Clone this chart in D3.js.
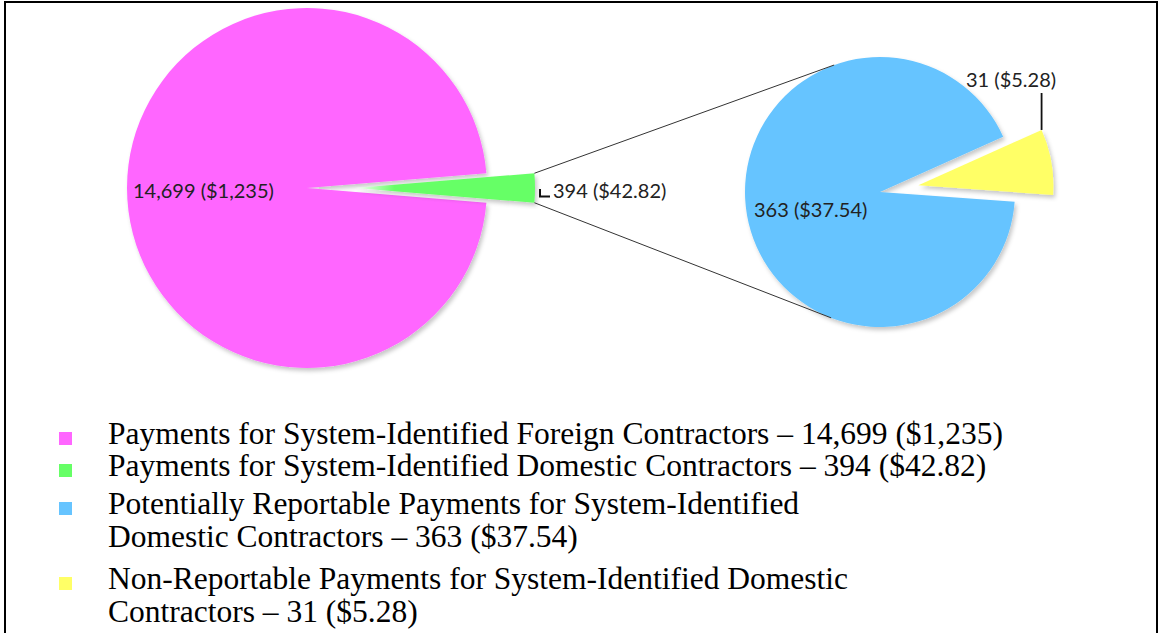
<!DOCTYPE html>
<html><head><meta charset="utf-8">
<script src="https://cdn.jsdelivr.net/npm/d3@7"></script>
<style>html,body{margin:0;padding:0;background:#fff;}svg{display:block;}</style>
</head><body>
<svg id="chart" width="1161" height="633"></svg>
<script>
// ---- data ----
const categories = ["Foreign", "Domestic", "Potentially Reportable", "Non-Reportable"];
const counts = [14699, 394, 363, 31];
const amounts = ["$1,235", "$42.82", "$37.54", "$5.28"];
const colors = ["#FF66FF", "#66FF66", "#66C4FF", "#FFFF66"];
const legendLines = [
  ["Payments for System-Identified Foreign Contractors – 14,699 ($1,235)"],
  ["Payments for System-Identified Domestic Contractors – 394 ($42.82)"],
  ["Potentially Reportable Payments for System-Identified", "Domestic Contractors – 363 ($37.54)"],
  ["Non-Reportable Payments for System-Identified Domestic", "Contractors – 31 ($5.28)"]
];

const svg = d3.select("#chart");
const fmt = d3.format(",");
const labelText = i => fmt(counts[i]) + " (" + amounts[i] + ")";

// filters/gradients
const defs = svg.append("defs");
const f = defs.append("filter").attr("id","sh").attr("x","-20%").attr("y","-20%").attr("width","140%").attr("height","140%");
f.append("feDropShadow").attr("dx",2).attr("dy",3).attr("stdDeviation",2).attr("flood-color","#000").attr("flood-opacity",0.22);
const g1 = defs.append("linearGradient").attr("id","gg").attr("x1","0").attr("x2","1").attr("y1","0").attr("y2","0");
g1.append("stop").attr("offset","0%").attr("stop-color","#ffffff");
g1.append("stop").attr("offset","22%").attr("stop-color",colors[1]);
g1.append("stop").attr("offset","100%").attr("stop-color",colors[1]);

// border
svg.append("rect").attr("x",5).attr("y",2).attr("width",1152).attr("height",700)
  .attr("fill","none").attr("stroke","#000").attr("stroke-width",2);

// ---- left pie ----
const c1 = {x:307, y:188}, R1 = 180, explode1 = 48;
const leftVals = [counts[1], counts[0]]; // domestic first, centered at 3 o'clock
const span1 = 2*Math.PI*leftVals[0]/d3.sum(leftVals);
const pie1 = d3.pie().sort(null).startAngle(Math.PI/2 - span1/2).endAngle(Math.PI/2 - span1/2 + 2*Math.PI);
const arcs1 = pie1(leftVals);
const arc1 = d3.arc().innerRadius(0).outerRadius(R1);
const gL = svg.append("g").attr("transform",`translate(${c1.x},${c1.y})`);
gL.append("path").attr("d",arc1(arcs1[1])).attr("fill",colors[0]).attr("filter","url(#sh)");
const mid1 = (arcs1[0].startAngle+arcs1[0].endAngle)/2;
const ex1 = explode1*Math.sin(mid1), ey1 = -explode1*Math.cos(mid1);
gL.append("path").attr("d",arc1(arcs1[0])).attr("fill","url(#gg)")
  .attr("transform",`translate(${ex1},${ey1})`).attr("filter","url(#sh)");

// ---- right pie ----
const c2 = {x:880, y:192}, R2 = 135, explode2 = 39;
const rightVals = [counts[3], counts[2]];
const span2 = 2*Math.PI*rightVals[0]/d3.sum(rightVals);
const mid2target = 80*Math.PI/180;
const pie2 = d3.pie().sort(null).startAngle(mid2target - span2/2).endAngle(mid2target - span2/2 + 2*Math.PI);
const arcs2 = pie2(rightVals);
const arc2 = d3.arc().innerRadius(0).outerRadius(R2);
const gR = svg.append("g").attr("transform",`translate(${c2.x},${c2.y})`);
gR.append("path").attr("d",arc2(arcs2[1])).attr("fill",colors[2]).attr("filter","url(#sh)");
const mid2 = (arcs2[0].startAngle+arcs2[0].endAngle)/2;
const ex2 = explode2*Math.sin(mid2), ey2 = -explode2*Math.cos(mid2);
gR.append("path").attr("d",arc2(arcs2[0])).attr("fill",colors[3])
  .attr("transform",`translate(${ex2},${ey2})`).attr("filter","url(#sh)");

// ---- connector lines (tangents from green outer corners to second pie) ----
function corner(a){
  return [c1.x + ex1 + R1*Math.sin(a), c1.y + ey1 - R1*Math.cos(a)];
}
function tangent(P, sign){
  const dx = P[0]-c2.x, dy = P[1]-c2.y, d = Math.hypot(dx,dy);
  const base = Math.atan2(dy,dx), alpha = Math.acos(R2/d);
  const t = base + sign*alpha;
  return [c2.x + R2*Math.cos(t), c2.y + R2*Math.sin(t)];
}
const pTop = corner(arcs1[0].startAngle), pBot = corner(arcs1[0].endAngle);
const tTop = tangent(pTop, 1), tBot = tangent(pBot, -1);
svg.append("line").attr("x1",pTop[0]).attr("y1",pTop[1]).attr("x2",tTop[0]).attr("y2",tTop[1]).attr("stroke","#333").attr("stroke-width",1);
svg.append("line").attr("x1",pBot[0]).attr("y1",pBot[1]).attr("x2",tBot[0]).attr("y2",tBot[1]).attr("stroke","#333").attr("stroke-width",1);

// ---- data labels ----
const lblFont = "Lato, 'Open Sans', sans-serif";
const lbl = (x,y,i) => svg.append("text").attr("x",x).attr("y",y).text(labelText(i))
  .attr("font-family",lblFont).attr("font-size",20).attr("fill","#222");
lbl(133,198,0);
lbl(553,198,1);
lbl(754,217,2);
lbl(966,87,3);
// leader lines
svg.append("path").attr("d","M540,189V196.5H550").attr("fill","none").attr("stroke","#111").attr("stroke-width",2);
const yCorner = [c2.x + ex2 + R2*Math.sin(arcs2[0].startAngle), c2.y + ey2 - R2*Math.cos(arcs2[0].startAngle)];
svg.append("line").attr("x1",yCorner[0]).attr("x2",yCorner[0]).attr("y1",93).attr("y2",yCorner[1])
  .attr("stroke","#111").attr("stroke-width",1.8);

// ---- legend ----
const lg = svg.append("g");
const lineBase = [444, 476, 514, 547, 589, 622];
let row = 0;
legendLines.forEach((lines,i)=>{
  const y0 = lineBase[row];
  lg.append("rect").attr("x",59).attr("y",y0-12).attr("width",13).attr("height",13).attr("fill",colors[i]);
  lines.forEach((t,j)=>{
    lg.append("text").attr("x",108).attr("y",lineBase[row+j]).text(t)
      .attr("font-family","'Liberation Serif', 'Times New Roman', serif").attr("font-size",31.5).attr("fill","#000");
  });
  row += lines.length;
});
</script>
</body></html>
